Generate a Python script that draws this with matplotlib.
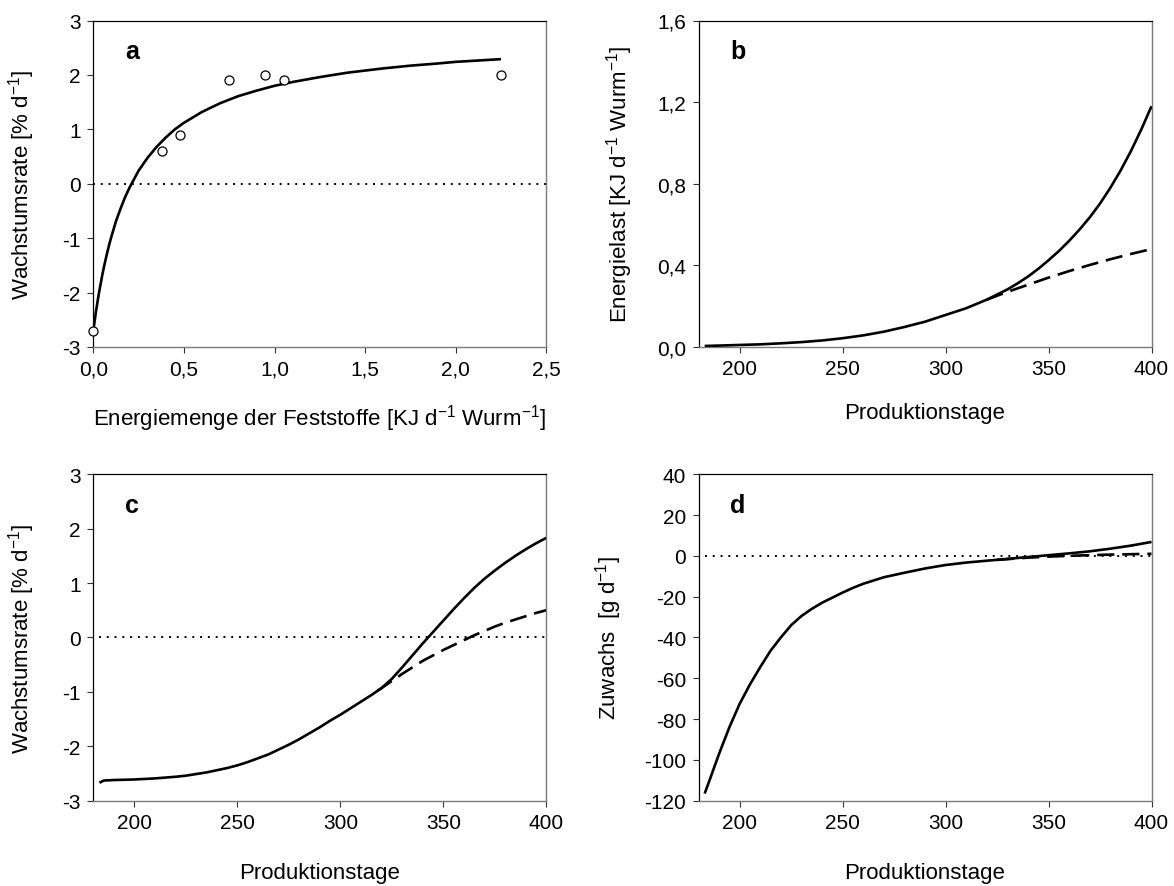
import matplotlib
matplotlib.use("Agg")
import matplotlib.pyplot as plt

plt.rcParams['font.family'] = ['Liberation Sans', 'DejaVu Sans']
plt.rcParams['mathtext.fontset'] = 'custom'
plt.rcParams['mathtext.rm'] = 'Liberation Sans'
plt.rcParams['mathtext.it'] = 'Liberation Sans:italic'
plt.rcParams['mathtext.bf'] = 'Liberation Sans:bold'

# ---- Panel a data ----
a_obs_x = [0.0, 0.38, 0.48, 0.75, 0.95, 1.05, 2.25]
a_obs_y = [-2.7, 0.6, 0.9, 1.9, 2.0, 1.9, 2.0]
a_fit_x = [0.0, 0.005, 0.01, 0.015, 0.02, 0.03, 0.04, 0.05, 0.06, 0.075, 0.09, 0.1,
           0.125, 0.15, 0.175, 0.2, 0.25, 0.3, 0.35, 0.4, 0.45, 0.5, 0.6, 0.7, 0.8,
           0.9, 1.0, 1.1, 1.25, 1.4, 1.5, 1.6, 1.75, 1.9, 2.0, 2.1, 2.25]
a_fit_y = [-2.7, -2.58, -2.46, -2.34, -2.24, -2.03, -1.85, -1.67, -1.51, -1.29, -1.09, -0.97,
           -0.69, -0.46, -0.25, -0.07, 0.24, 0.48, 0.68, 0.85, 1.00, 1.12, 1.32, 1.48, 1.61,
           1.71, 1.80, 1.87, 1.96, 2.04, 2.08, 2.12, 2.17, 2.21, 2.24, 2.26, 2.29]
a_xticks = [0.0, 0.5, 1.0, 1.5, 2.0, 2.5]
a_xticklabels = ['0,0', '0,5', '1,0', '1,5', '2,0', '2,5']
a_yticks = [-3, -2, -1, 0, 1, 2, 3]

# ---- Panel b data ----
b_x = [183, 190, 200, 210, 220, 230, 240, 250, 260, 270, 280, 290, 300, 310, 320,
       330, 335, 340, 345, 350, 355, 360, 365, 370, 375, 380, 385, 390, 395, 400]
b_solid = [0.005, 0.007, 0.010, 0.013, 0.018, 0.024, 0.032, 0.043, 0.057, 0.075,
           0.098, 0.124, 0.157, 0.19, 0.232, 0.282, 0.312, 0.345, 0.383, 0.425,
           0.47, 0.52, 0.575, 0.635, 0.703, 0.78, 0.865, 0.96, 1.065, 1.18]
b_dash_x = [320, 330, 340, 350, 360, 370, 380, 390, 400]
b_dash_y = [0.232, 0.27, 0.305, 0.34, 0.372, 0.402, 0.43, 0.456, 0.48]
b_yticks = [0.0, 0.4, 0.8, 1.2, 1.6]
b_yticklabels = ['0,0', '0,4', '0,8', '1,2', '1,6']
day_ticks = [200, 250, 300, 350, 400]

# ---- Panel c data ----
c_x = [183, 185, 190, 195, 200, 205, 210, 215, 220, 225, 230, 235, 240, 245, 250,
       255, 260, 265, 270, 275, 280, 285, 290, 295, 300, 305, 310, 315, 320, 325,
       330, 335, 340, 345, 350, 355, 360, 365, 370, 375, 380, 385, 390, 395, 400]
c_solid = [-2.67, -2.63, -2.62, -2.615, -2.61, -2.60, -2.59, -2.575, -2.56, -2.54,
           -2.51, -2.48, -2.44, -2.40, -2.35, -2.29, -2.22, -2.15, -2.06, -1.97,
           -1.87, -1.76, -1.65, -1.53, -1.42, -1.30, -1.18, -1.06, -0.93, -0.76,
           -0.55, -0.33, -0.11, 0.10, 0.31, 0.52, 0.72, 0.91, 1.08, 1.23,
           1.37, 1.50, 1.62, 1.73, 1.83]
c_dash_x = [318, 320, 325, 330, 335, 340, 345, 350, 355, 360, 365, 370, 375, 380,
            385, 390, 395, 400]
c_dash_y = [-0.98, -0.93, -0.80, -0.67, -0.55, -0.43, -0.33, -0.23, -0.14, -0.05,
            0.04, 0.12, 0.20, 0.27, 0.33, 0.39, 0.45, 0.50]
c_yticks = [-3, -2, -1, 0, 1, 2, 3]

# ---- Panel d data ----
d_x = [183, 185, 190, 195, 200, 205, 210, 215, 220, 225, 230, 235, 240, 245, 250,
       255, 260, 270, 280, 290, 300, 310, 320, 330, 340, 350, 360, 370, 380, 390, 400]
d_solid = [-116.5, -111, -97, -84, -72.5, -63, -54.5, -46.5, -40, -34, -29.5, -26,
           -23, -20.5, -18, -15.7, -13.7, -10.5, -8.3, -6.2, -4.5, -3.3, -2.4, -1.5,
           -0.6, 0.3, 1.2, 2.2, 3.5, 5.0, 6.8]
d_dash_x = [325, 340, 350, 360, 370, 380, 390, 400]
d_dash_y = [-2.0, -0.9, -0.4, 0.0, 0.3, 0.6, 0.8, 1.0]
d_yticks = [-120, -100, -80, -60, -40, -20, 0, 20, 40]

W, H = 1174, 887
fig = plt.figure(figsize=(W / 100, H / 100), dpi=100)

def px_axes(left, top, width, height):
    return fig.add_axes([left / W, 1 - (top + height) / H, width / W, height / H])

ax_w, ax_h = 453, 326.5
axa = px_axes(93.3, 21.5, ax_w, ax_h)
axb = px_axes(698.5, 21.5, ax_w, ax_h)
axc = px_axes(93.3, 475.2, ax_w, ax_h)
axd = px_axes(698.5, 475.2, ax_w, ax_h)

TICK_FS = 15
LAB_FS = 16
solid_kw = dict(color='black', lw=1.9, solid_capstyle='butt', solid_joinstyle='round')
dash_kw = dict(color='black', lw=1.9, linestyle=(0, (6.5, 3.0)))
dot_kw = dict(color='black', lw=1.4, linestyle=(0, (1, 3.0)))

def style(ax):
    for s in ['top', 'left']:
        ax.spines[s].set_color('black')
        ax.spines[s].set_linewidth(0.9)
    for s in ['bottom', 'right']:
        ax.spines[s].set_color('#7a7a7a')
        ax.spines[s].set_linewidth(1.0)
    ax.tick_params(direction='out', length=4, width=0.8, color='#333333',
                   labelsize=TICK_FS, pad=5)

def letter(ax, t):
    ax.text(0.07, 0.884, t, transform=ax.transAxes, fontsize=18,
            fontweight='bold', ha='left', va='baseline')

# Panel a
axa.plot(a_fit_x, a_fit_y, **solid_kw, zorder=2)
axa.plot([0, 2.5], [0, 0], **dot_kw, zorder=1)
axa.plot(a_obs_x, a_obs_y, 'o', ms=6.5, mfc='white', mec='black', mew=0.9,
         zorder=3, clip_on=False)
axa.set_xlim(0, 2.5)
axa.set_ylim(-3, 3)
axa.set_xticks(a_xticks)
axa.set_xticklabels(a_xticklabels)
axa.set_yticks(a_yticks)
axa.set_yticklabels([str(v) for v in a_yticks])
axa.set_xlabel('Energiemenge der Feststoffe [KJ d$^{-1}$ Wurm$^{-1}$]', fontsize=LAB_FS)
axa.set_ylabel('Wachstumsrate [% d$^{-1}$]', fontsize=LAB_FS)
style(axa)
letter(axa, 'a')

# Panel b
axb.plot(b_x, b_solid, **solid_kw, zorder=3)
axb.plot(b_dash_x, b_dash_y, **dash_kw, zorder=2)
axb.set_xlim(180, 400)
axb.set_ylim(0, 1.6)
axb.set_xticks(day_ticks)
axb.set_yticks(b_yticks)
axb.set_yticklabels(b_yticklabels)
axb.set_xlabel('Produktionstage', fontsize=LAB_FS)
axb.set_ylabel('Energielast [KJ d$^{-1}$ Wurm$^{-1}$]', fontsize=LAB_FS)
style(axb)
letter(axb, 'b')

# Panel c
axc.plot(c_x, c_solid, **solid_kw, zorder=3)
axc.plot(c_dash_x, c_dash_y, **dash_kw, zorder=2)
axc.plot([183, 400], [0, 0], **dot_kw, zorder=1)
axc.set_xlim(180, 400)
axc.set_ylim(-3, 3)
axc.set_xticks(day_ticks)
axc.set_yticks(c_yticks)
axc.set_yticklabels([str(v) for v in c_yticks])
axc.set_xlabel('Produktionstage', fontsize=LAB_FS)
axc.set_ylabel('Wachstumsrate [% d$^{-1}$]', fontsize=LAB_FS)
style(axc)
letter(axc, 'c')

# Panel d
axd.plot(d_x, d_solid, **solid_kw, zorder=3)
axd.plot(d_dash_x, d_dash_y, **dash_kw, zorder=2)
axd.plot([183, 400], [0, 0], **dot_kw, zorder=1)
axd.set_xlim(180, 400)
axd.set_ylim(-120, 40)
axd.set_xticks(day_ticks)
axd.set_yticks(d_yticks)
axd.set_yticklabels([str(v) for v in d_yticks])
axd.set_xlabel('Produktionstage', fontsize=LAB_FS)
axd.set_ylabel('Zuwachs  [g d$^{-1}$]', fontsize=LAB_FS)
style(axd)
letter(axd, 'd')

# label placement (axes coordinates)
for ax in (axa, axc):
    ax.yaxis.set_label_coords(-0.124, 0.5)
axb.yaxis.set_label_coords(-0.14, 0.5)
axd.yaxis.set_label_coords(-0.165, 0.5)
for ax in (axa, axb):
    ax.xaxis.set_label_coords(0.5, -0.168)
for ax in (axc, axd):
    ax.xaxis.set_label_coords(0.5, -0.188)

fig.savefig('out.png', dpi=100)
